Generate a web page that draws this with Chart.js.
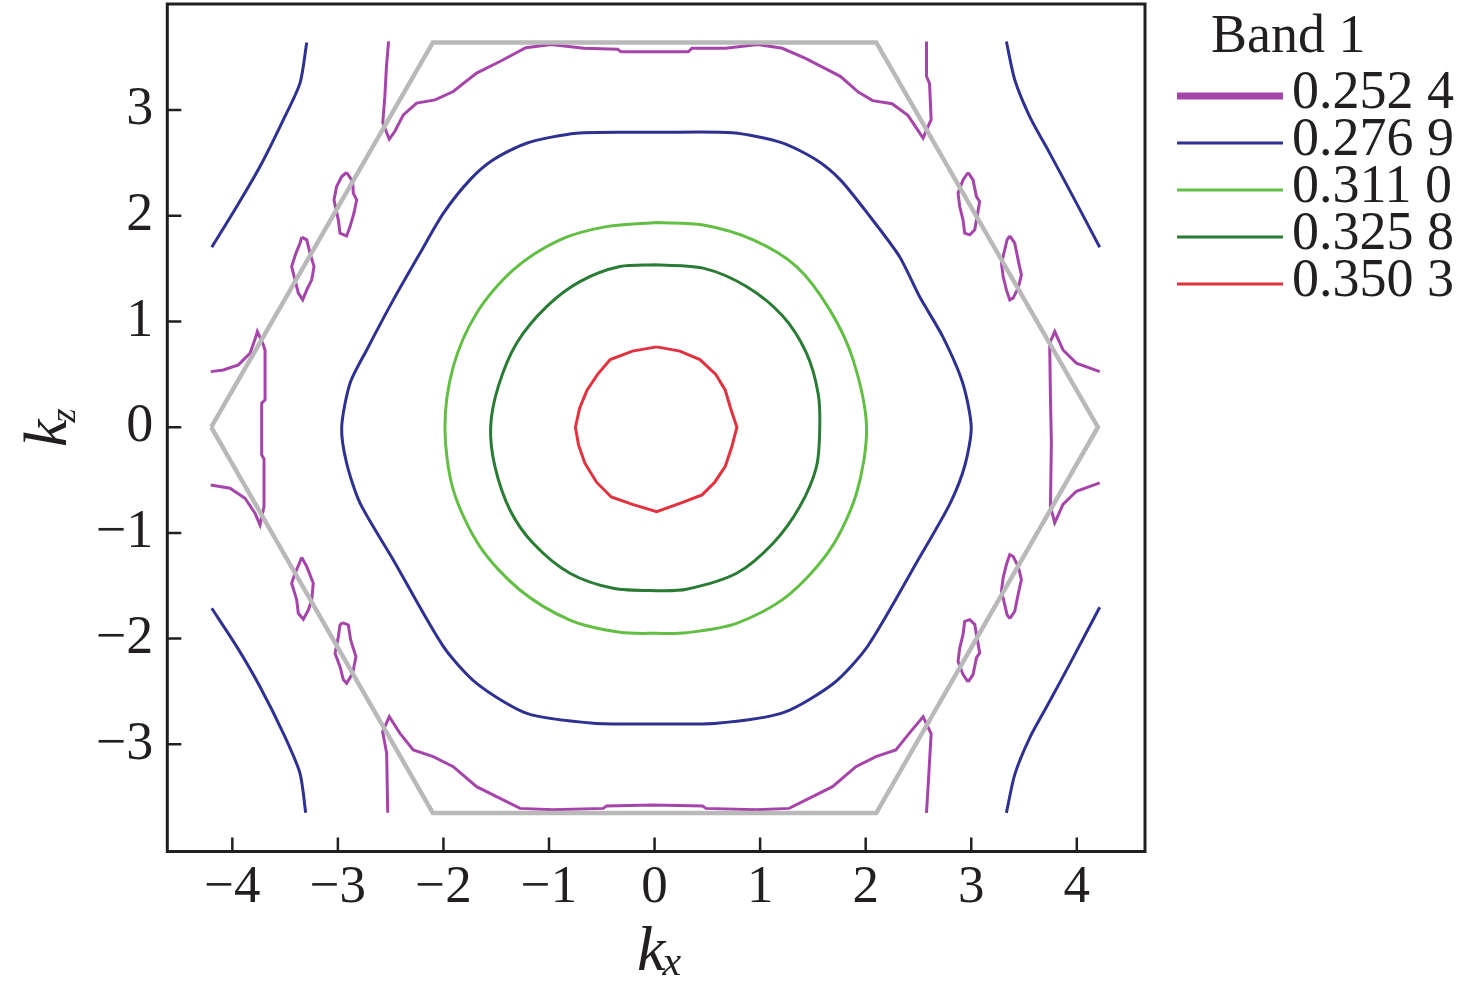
<!DOCTYPE html>
<html>
<head>
<meta charset="utf-8">
<script src="https://cdn.jsdelivr.net/npm/chart.js@4.4.1/dist/chart.umd.min.js"></script>
<style>
  html, body { margin: 0; padding: 0; background: #fff; }
  #wrap { width: 1476px; height: 995px; }
</style>
</head>
<body>
<div id="wrap"><canvas id="chart" width="1476" height="995"></canvas></div>
<script>
/* Band 1 iso-energy contours in the kx-kz plane, Brillouin zone outline in grey */

const X_TICKS = [-4, -3, -2, -1, 0, 1, 2, 3, 4];
const Y_TICKS = [-3, -2, -1, 0, 1, 2, 3];

const LEVELS = ['0.252 4', '0.276 9', '0.311 0', '0.325 8', '0.350 3'];
const LEVEL_COLORS = ['#a545a9', '#2e3191', '#63be44', '#2a7b34', '#e2323f'];

// zone boundary (hexagon)
const zone = [[-4.2,0],[-2.1,3.64],[2.1,3.64],[4.2,0],[2.1,-3.65],[-2.1,-3.65],[-4.2,0]];

// level 0.252 4 (purple)
const pTop = [[-2.52,3.65],[-2.54,3.41],[-2.555,3.13],[-2.575,2.88],[-2.513,2.725],[-2.46,2.80],[-2.38,2.955],
  [-2.254,3.066],[-2.08,3.097],[-1.907,3.176],[-1.686,3.35],[-1.465,3.46],[-1.22,3.59],[-0.98,3.62],[-0.67,3.585],
  [-0.35,3.575],[-0.318,3.552],[0.32,3.552],[0.353,3.585],[0.672,3.585],[0.98,3.62],[1.21,3.585],[1.43,3.49],
  [1.76,3.32],[1.93,3.17],[2.066,3.09],[2.25,3.06],[2.40,2.95],[2.544,2.735],[2.59,2.845],[2.62,2.91],
  [2.605,3.25],[2.576,3.32],[2.576,3.649]];
const pBottom = [[-2.528,-3.647],[-2.538,-3.085],[-2.576,-2.88],[-2.513,-2.739],[-2.412,-2.896],[-2.286,-3.054],
  [-2.097,-3.117],[-1.907,-3.212],[-1.686,-3.401],[-1.275,-3.606],[-0.96,-3.62],[-0.487,-3.606],[-0.455,-3.584],
  [-0.013,-3.574],[0.455,-3.584],[0.487,-3.606],[0.96,-3.62],[1.275,-3.606],[1.686,-3.401],[1.907,-3.212],
  [2.097,-3.117],[2.286,-3.054],[2.412,-2.896],[2.544,-2.739],[2.62,-2.90],[2.60,-3.25],[2.576,-3.649]];
const pLeft = [[-4.205,0.526],[-4.085,0.542],[-3.943,0.59],[-3.832,0.70],[-3.776,0.858],[-3.763,0.905],[-3.712,0.795],
  [-3.69,0.731],[-3.69,0.258],[-3.722,0.227],[-3.722,-0.262],[-3.70,-0.30],[-3.70,-0.751],[-3.738,-0.925],
  [-3.785,-0.814],[-3.88,-0.672],[-4.022,-0.577],[-4.205,-0.546]];
const pRight = [[4.217,0.526],[3.996,0.606],[3.869,0.731],[3.791,0.905],[3.743,0.795],[3.75,0.30],[3.759,-0.151],
  [3.75,-0.75],[3.791,-0.905],[3.869,-0.731],[3.996,-0.606],[4.217,-0.526]];
const loopA = [[-2.917,2.41],[-2.86,2.325],[-2.854,2.214],[-2.822,2.151],[-2.848,2.025],[-2.885,1.898],[-2.917,1.81],
  [-2.98,1.836],[-2.996,1.962],[-3.037,2.151],[-3.012,2.277],[-2.964,2.372],[-2.917,2.41]];
const loopB = [[-3.343,1.798],[-3.295,1.773],[-3.264,1.647],[-3.226,1.52],[-3.248,1.394],[-3.295,1.299],[-3.333,1.205],
  [-3.375,1.268],[-3.406,1.394],[-3.438,1.52],[-3.397,1.647],[-3.359,1.741],[-3.343,1.798]];
const loopC = [[-3.343,-1.23],[-3.295,-1.319],[-3.233,-1.476],[-3.248,-1.634],[-3.28,-1.729],[-3.327,-1.817],
  [-3.375,-1.76],[-3.39,-1.634],[-3.438,-1.476],[-3.406,-1.382],[-3.365,-1.287],[-3.343,-1.23]];
const loopD = [[-2.955,-1.849],[-2.901,-1.871],[-2.879,-2.013],[-2.829,-2.171],[-2.86,-2.328],[-2.917,-2.423],
  [-2.948,-2.39],[-2.98,-2.265],[-3.027,-2.139],[-2.996,-1.982],[-2.98,-1.871],[-2.955,-1.849]];
const loopE = [[2.97,2.41],[3.017,2.34],[3.049,2.182],[3.08,2.135],[3.055,1.993],[3.033,1.867],[2.986,1.82],
  [2.938,1.836],[2.922,1.962],[2.891,2.088],[2.875,2.214],[2.922,2.34],[2.97,2.41]];
const loopF = [[3.365,1.81],[3.412,1.741],[3.444,1.583],[3.475,1.441],[3.444,1.315],[3.396,1.221],[3.365,1.205],
  [3.333,1.299],[3.302,1.425],[3.286,1.552],[3.317,1.678],[3.339,1.773],[3.365,1.81]];
const loopG = [[3.365,-1.81],[3.412,-1.741],[3.444,-1.583],[3.475,-1.441],[3.444,-1.315],[3.396,-1.221],[3.365,-1.205],
  [3.333,-1.299],[3.302,-1.425],[3.286,-1.552],[3.317,-1.678],[3.339,-1.773],[3.365,-1.81]];
const loopH = [[2.97,-2.41],[3.017,-2.34],[3.049,-2.182],[3.08,-2.135],[3.055,-1.993],[3.033,-1.867],[2.986,-1.82],
  [2.938,-1.836],[2.922,-1.962],[2.891,-2.088],[2.875,-2.214],[2.922,-2.34],[2.97,-2.41]];

// level 0.276 9 (navy)
const bCenter = [[0.0,2.79],[0.74,2.785],[1.21,2.69],[1.53,2.53],[1.76,2.34],[2.02,2.02],[2.32,1.615],[2.51,1.236],
  [2.73,0.857],[2.92,0.416],[3.0,0.0],[2.94,-0.36],[2.80,-0.72],[2.50,-1.25],[2.02,-2.07],[1.70,-2.42],[1.22,-2.70],
  [0.59,-2.80],[0.0,-2.807],[-0.58,-2.80],[-1.21,-2.707],[-1.686,-2.423],[-2.0,-2.076],[-2.475,-1.256],[-2.79,-0.719],
  [-2.917,-0.341],[-2.964,0.0],[-2.885,0.416],[-2.727,0.731],[-2.475,1.205],[-2.222,1.647],[-2.0,2.025],
  [-1.749,2.34],[-1.528,2.53],[-1.212,2.687],[-0.739,2.782],[0.0,2.79]];
const bUL = [[-3.295,3.64],[-3.359,3.255],[-3.517,2.908],[-3.738,2.466],[-3.958,2.088],[-4.195,1.703]];
const bLL = [[-4.195,-1.713],[-3.958,-2.076],[-3.738,-2.455],[-3.517,-2.896],[-3.359,-3.274],[-3.305,-3.647]];
const bUR = [[3.333,3.649],[3.412,3.287],[3.554,2.939],[3.743,2.593],[3.964,2.182],[4.217,1.703]];
const bLR = [[4.217,-1.703],[3.964,-2.182],[3.743,-2.593],[3.554,-2.939],[3.412,-3.287],[3.333,-3.649]];

// level 0.311 0 (light green)
const gLight = [[0.019,1.936],[0.46,1.914],[0.934,1.773],[1.345,1.52],[1.66,1.11],[1.881,0.637],[2.008,0.0],
  [1.913,-0.625],[1.66,-1.161],[1.25,-1.603],[0.777,-1.855],[0.303,-1.944],[0.019,-1.95],[-0.329,-1.94],
  [-0.802,-1.824],[-1.276,-1.54],[-1.654,-1.13],[-1.907,-0.593],[-1.986,0.0],[-1.907,0.574],[-1.686,1.079],
  [-1.339,1.489],[-0.897,1.773],[-0.455,1.898],[0.019,1.936]];

// level 0.325 8 (dark green)
const gDark = [[0.019,1.536],[0.46,1.505],[0.871,1.331],[1.218,1.047],[1.439,0.70],[1.549,0.322],[1.565,0.0],
  [1.534,-0.373],[1.376,-0.751],[1.123,-1.098],[0.777,-1.382],[0.303,-1.533],[0.019,-1.546],[-0.392,-1.524],
  [-0.802,-1.382],[-1.15,-1.098],[-1.37,-0.783],[-1.512,-0.373],[-1.553,0.0],[-1.481,0.384],[-1.307,0.795],
  [-1.023,1.141],[-0.707,1.378],[-0.329,1.52],[0.019,1.536]];

// level 0.350 3 (red)
const red = [[0.02,0.76],[0.24,0.72],[0.43,0.64],[0.58,0.50],[0.67,0.35],[0.72,0.18],[0.78,0.0],[0.73,-0.19],
  [0.67,-0.37],[0.57,-0.52],[0.45,-0.64],[0.24,-0.72],[0.02,-0.80],[-0.21,-0.73],[-0.41,-0.66],[-0.55,-0.52],
  [-0.66,-0.34],[-0.72,-0.17],[-0.75,0.0],[-0.71,0.18],[-0.64,0.35],[-0.54,0.50],[-0.42,0.64],[-0.21,0.72],[0.02,0.76]];

const PIECES = [
  [pTop, pBottom, pLeft, pRight, loopA, loopB, loopC, loopD, loopE, loopF, loopG, loopH],
  [bCenter, bUL, bLL, bUR, bLR],
  [gLight],
  [gDark],
  [red]
];
const TENSION = [0, 0.25, 0.3, 0.3, 0];

const SERIF = "'Liberation Serif', 'Times New Roman', serif";
const INK = '#231f20';

const toXY = arr => arr.map(p => ({x: p[0], y: p[1]}));

const datasets = [];
PIECES.forEach((list, i) => {
  list.forEach(piece => {
    datasets.push({
      label: LEVELS[i],
      data: toXY(piece),
      showLine: true,
      borderColor: LEVEL_COLORS[i],
      borderWidth: 3,
      pointRadius: 0,
      tension: TENSION[i],
      fill: false,
      order: 2
    });
  });
});
datasets.push({
  label: 'zone',
  data: toXY(zone),
  showLine: true,
  borderColor: '#b9b9b9',
  borderWidth: 4.5,
  pointRadius: 0,
  tension: 0,
  fill: false,
  order: 0
});

function minusFmt(v){
  return v < 0 ? '\u2212' + Math.abs(v) : String(v);
}

const decor = {
  id: 'decor',
  afterDraw(chart){
    const {ctx, chartArea: a, scales} = chart;
    const x = scales.x, y = scales.y;
    ctx.save();
    // inward tick marks
    ctx.strokeStyle = INK;
    ctx.lineWidth = 2.5;
    ctx.beginPath();
    X_TICKS.forEach(v => {
      const px = x.getPixelForValue(v);
      ctx.moveTo(px, a.bottom); ctx.lineTo(px, a.bottom - 14);
    });
    Y_TICKS.forEach(v => {
      const py = y.getPixelForValue(v);
      ctx.moveTo(a.left, py); ctx.lineTo(a.left + 14, py);
    });
    ctx.stroke();
    // frame
    ctx.lineWidth = 3;
    ctx.strokeRect(a.left, a.top, a.right - a.left, a.bottom - a.top);

    // axis titles
    ctx.fillStyle = INK;
    ctx.textBaseline = 'alphabetic';
    ctx.textAlign = 'left';
    ctx.font = 'italic 64px ' + SERIF;
    const kw = ctx.measureText('k').width;
    ctx.fillText('k', 637, 970);
    ctx.font = 'italic 42px ' + SERIF;
    ctx.fillText('x', 637 + kw - 3, 975);

    ctx.save();
    ctx.translate(66, 447);
    ctx.rotate(-Math.PI / 2);
    ctx.font = 'italic 62px ' + SERIF;
    const kw2 = ctx.measureText('k').width;
    ctx.fillText('k', 0, 0);
    ctx.font = 'italic 36px ' + SERIF;
    ctx.fillText('z', kw2 - 3, 9);
    ctx.restore();

    // legend
    ctx.font = '54px ' + SERIF;
    ctx.fillText('Band 1', 1211, 52);
    LEVELS.forEach((lab, i) => {
      const ly = 96 + i * 47;
      ctx.strokeStyle = LEVEL_COLORS[i];
      ctx.lineWidth = i === 0 ? 7 : 3;
      ctx.lineCap = 'butt';
      ctx.beginPath();
      ctx.moveTo(1177, ly); ctx.lineTo(1283, ly);
      ctx.stroke();
      ctx.fillStyle = INK;
      ctx.fillText(lab, 1292, ly + 12);
    });
    ctx.restore();
  }
};

const ctx = document.getElementById('chart').getContext('2d');
new Chart(ctx, {
  type: 'scatter',
  data: { datasets },
  options: {
    responsive: false,
    devicePixelRatio: 1,
    animation: false,
    layout: { padding: { left: 0, right: 331, top: 4, bottom: 0 } },
    plugins: { legend: { display: false }, tooltip: { enabled: false } },
    scales: {
      x: {
        type: 'linear',
        min: -4.616, max: 4.646,
        grid: { display: false },
        border: { display: false },
        afterBuildTicks: s => { s.ticks = X_TICKS.map(v => ({value: v})); },
        afterFit: s => { s.height = 143.5; s.paddingLeft = 0; s.paddingRight = 0; },
        ticks: {
          color: INK, padding: -3, maxRotation: 0, autoSkip: false,
          font: { family: SERIF, size: 53 },
          callback: v => minusFmt(v)
        }
      },
      y: {
        type: 'linear',
        min: -4.014, max: 4.004,
        grid: { display: false },
        border: { display: false },
        afterBuildTicks: s => { s.ticks = Y_TICKS.map(v => ({value: v})); },
        afterFit: s => { s.width = 167.3; s.paddingTop = 0; s.paddingBottom = 0; },
        ticks: {
          color: INK, padding: 6, autoSkip: false,
          font: { family: SERIF, size: 54 },
          callback: v => minusFmt(v)
        }
      }
    }
  },
  plugins: [decor]
});
</script>
</body>
</html>
